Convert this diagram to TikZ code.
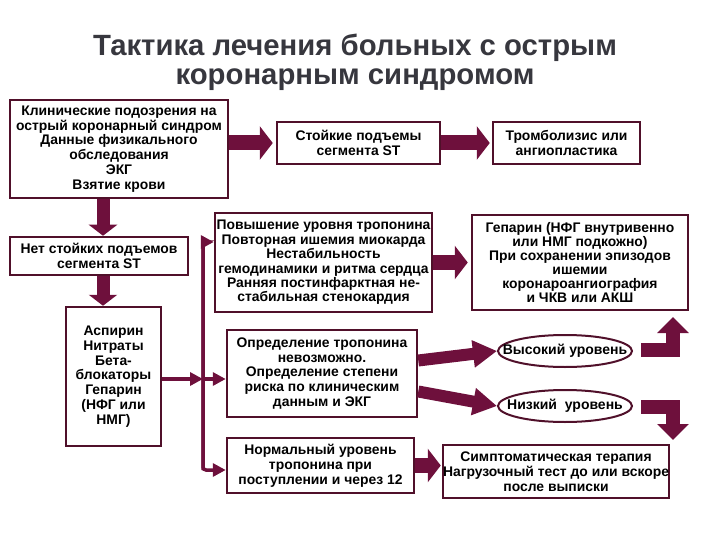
\documentclass[tikz,border=0pt]{standalone}
\usepackage{fontspec}
\setmainfont{Liberation Sans}
\usetikzlibrary{arrows.meta,shapes.geometric}
\definecolor{brd}{RGB}{80,16,42}
\definecolor{arr}{RGB}{110,16,60}
\definecolor{ttl}{RGB}{55,55,62}
\tikzset{
  box/.style={draw=brd, line width=2.5pt, fill=white, align=center, inner sep=0pt,
    font=\bfseries\fontsize{13.9}{14.8}\selectfont},
  oval/.style={ellipse, draw=brd, line width=2pt, inner sep=0pt,
    font=\bfseries\fontsize{14}{15}\selectfont},
  blockh/.style={draw=arr, line width=15pt, -{Triangle[width=33pt,length=13pt]}},
  blockv/.style={draw=arr, line width=13pt, -{Triangle[width=28pt,length=11pt]}},
  slant/.style={draw=arr, line width=12pt, -{Triangle[width=26pt,length=24pt]}},
  elbow/.style={draw=arr, line width=14pt, line join=miter, -{Triangle[width=31pt,length=16pt]}},
  bus/.style={draw=arr, line width=3.5pt, rounded corners=3pt, -{Triangle[width=13pt,length=13pt]}},
  ttlfont/.style={font=\bfseries\fontsize{29.3}{30}\selectfont, text=ttl, anchor=base},
}
\begin{document}
\begin{tikzpicture}[x=1pt,y=-1pt]
\useasboundingbox (0,0) rectangle (720,540);
% title
\node[ttlfont] (t1) at (355,56) {Тактика лечения больных с острым};
\node[ttlfont] (t2) at (355,85) {коронарным синдромом};
% boxes
\node[box, minimum width=218, minimum height=98] (A) at (119,149)
  {Клинические подозрения на\\острый коронарный синдром\\Данные физикального\\обследования\\ЭКГ\\Взятие крови};
\node[box, minimum width=163, minimum height=42] (B) at (358.5,143)
  {Стойкие подъемы\\сегмента ST};
\node[box, minimum width=147, minimum height=42] (C) at (566.5,143)
  {Тромболизис или\\ангиопластика};
\node[box, minimum width=178, minimum height=38] (D) at (99,256)
  {Нет стойких подъемов\\сегмента ST};
\node[box, minimum width=95, minimum height=139] (E) at (113.5,376.5)
  {Аспирин\\Нитраты\\Бета-\\блокаторы\\Гепарин\\(НФГ или\\НМГ)};
\node[box, minimum width=217, minimum height=99, font=\bfseries\fontsize{13.9}{14.4}\selectfont] (F) at (323.5,262.5)
  {Повышение уровня тропонина\\Повторная ишемия миокарда\\Нестабильность\\гемодинамики и ритма сердца\\Ранняя постинфарктная не-\\стабильная стенокардия};
\node[box, minimum width=216, minimum height=95, font=\bfseries\fontsize{13.9}{14}\selectfont] (G) at (580,262.5)
  {Гепарин (НФГ внутривенно\\или НМГ подкожно)\\При сохранении эпизодов\\ишемии\\коронароангиография\\и ЧКВ или АКШ};
\node[box, minimum width=190, minimum height=87] (H) at (322,373.5)
  {Определение тропонина\\невозможно.\\Определение степени\\риска по клиническим\\данным и ЭКГ};
\node[box, minimum width=187, minimum height=55] (I) at (320.5,465.5)
  {Нормальный уровень\\тропонина при\\поступлении и через 12};
\node[box, minimum width=226, minimum height=53] (J) at (556,471.5)
  {Симптоматическая терапия\\Нагрузочный тест до или вскоре\\после выписки};
\node[oval, minimum width=134, minimum height=32] (Hi) at (565,351) {\makebox[0pt]{Высокий уровень}};
\node[oval, minimum width=134, minimum height=32] (Lo) at (565,406) {\makebox[0pt]{Низкий\ \ уровень}};
% helper coordinates
\coordinate (dx) at (103,0);
\coordinate (bt) at (203,242);
\coordinate (bm) at (203,379);
\coordinate (bb) at (203,470);
\coordinate (hiS) at (641,350);
\coordinate (hiE) at (673,317);
\coordinate (loS) at (641,407);
\coordinate (loE) at (673,440);
% block arrows
\draw[blockh] (A.east |- B.west) -- ([xshift=-3]B.west);
\draw[blockh] (B.east) -- ([xshift=-2]C.west);
\draw[blockh] (F.east) -- ([xshift=-3]G.west);
\draw[blockh] (I.east) -- ([xshift=-1]J.west |- I.east);
\draw[blockv] (A.south -| dx) -- (D.north -| dx);
\draw[blockv] (D.south -| dx) -- (E.north -| dx);
% bus
\draw[bus] (bb) -- (bt) -- (F.west |- bt);
\draw[bus] (bt) -- (bb) -- (I.west |- bb);
\draw[bus] (E.east |- bm) -- (bm);
\draw[bus] (bm) -- (H.west |- bm);
% slanted
\draw[slant] ([yshift=13]H.east) -- (Hi.west);
\draw[slant] ([yshift=-18]H.east) -- (Lo.west);
% elbows
\draw[elbow] (hiS) -| (hiE);
\draw[elbow] (loS) -| (loE);
\end{tikzpicture}
\end{document}
